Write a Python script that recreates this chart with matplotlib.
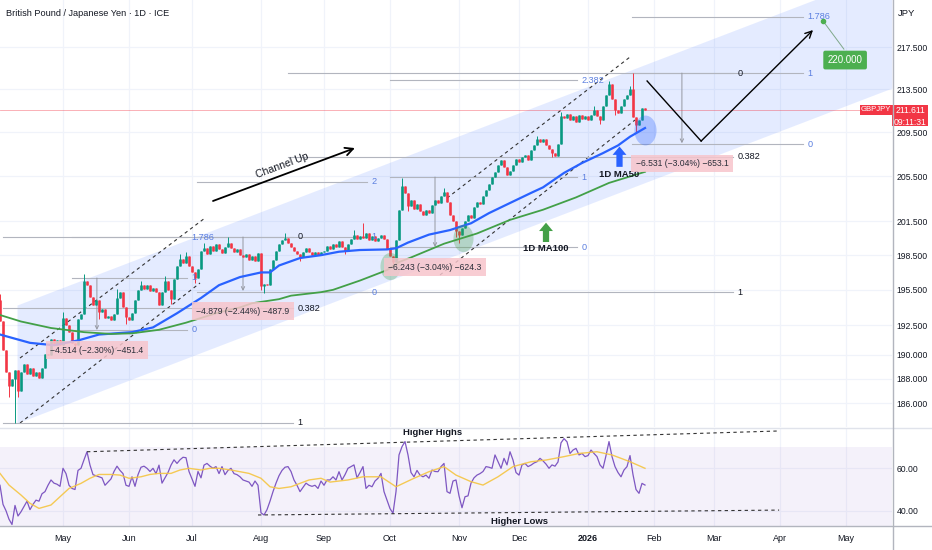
import numpy as np
import pandas as pd
import matplotlib
matplotlib.use("Agg")
import matplotlib.pyplot as plt
from matplotlib.lines import Line2D
from matplotlib.patches import Rectangle
from matplotlib.markers import MarkerStyle
from matplotlib.transforms import Affine2D, IdentityTransform
from matplotlib.ticker import FixedLocator, NullLocator, FuncFormatter

plt.rcParams['font.family'] = ['Liberation Sans', 'DejaVu Sans']

# bar numbers count trading days from 1 Apr 2025 (bar 0)
trading_days = pd.bdate_range("2025-04-01", "2026-05-29")
first_bar = 1
first_open = 194.6

closes = [
    # Apr
    192.8, 190.4, 188.6, 187.4, 188.0, 188.7, 187.0, 188.6, 189.2, 188.4,
    188.9, 188.2, 188.6, 188.1, 188.9, 190.1, 190.0, 191.3, 190.8, 191.2, 190.8,
    # May
    193.1, 192.5, 191.9, 191.0, 190.8, 193.0, 193.4, 196.3, 195.9, 194.9, 194.2,
    194.6, 193.6, 193.9, 193.1, 193.3, 192.9, 193.4, 194.8, 195.3, 194.0, 193.2,
    # Jun
    192.9, 193.5, 194.6, 195.5, 195.9, 195.6, 195.9, 195.4, 195.7, 195.3, 194.2,
    195.3, 196.3, 195.5, 194.7, 196.4, 197.6, 198.2, 197.8, 198.4, 197.6,
    # Jul
    197.0, 196.5, 197.3, 198.9, 199.1, 198.6, 199.3, 198.9, 199.5, 199.0, 198.7, 199.2,
    199.6, 199.1, 198.8, 199.0, 198.5, 198.3, 198.6, 198.1, 198.4, 198.0, 198.7,
    # Aug
    195.8, 196.0, 195.9, 197.3, 198.1, 198.9, 199.5, 199.8, 200.0, 199.6, 199.2,
    198.9, 198.6, 198.3, 198.8, 199.1, 198.8, 198.5, 198.8, 198.5, 198.8,
    # Sep
    198.9, 199.3, 199.0, 199.5, 199.2, 199.7, 199.2, 198.9, 199.5, 199.9, 200.3,
    199.9, 200.2, 200.0, 200.4, 199.8, 200.2, 199.7, 200.0, 200.3, 199.9, 199.0,
    # Oct
    198.4, 197.9, 199.8, 202.5, 204.6, 204.0, 202.8, 203.4, 202.6, 203.0, 202.4, 202.0,
    202.5, 202.2, 202.9, 203.4, 203.1, 203.7, 204.1, 203.2, 202.0, 201.5, 200.6,
    # Nov
    200.3, 200.9, 201.5, 202.0, 201.8, 202.7, 203.2, 203.0, 203.7, 204.3,
    204.8, 205.4, 205.9, 206.5, 207.0, 206.3, 205.6, 206.0, 206.5, 207.1,
    # Dec
    206.8, 207.2, 207.4, 207.0, 207.9, 208.3, 208.9, 208.6, 208.9, 208.3, 208.0, 207.6,
    207.3, 208.4, 211.0, 210.8, 211.2, 210.6, 211.0, 210.5, 211.1, 210.7, 211.0,
    # Jan
    210.6, 211.1, 211.6, 211.0, 210.6, 211.9, 213.0, 214.0, 212.6, 211.6,
    211.3, 211.9, 212.6, 213.0, 213.5, 210.9, 210.2, 210.6, 211.8, 211.611,
]
wick_highs = {1: 195.1, 22: 193.6, 29: 196.9, 40: 195.6, 48: 196.3, 56: 196.7,
              61: 198.6, 63: 198.8, 69: 199.6, 77: 200.1, 96: 200.4, 119: 200.7,
              122: 201.3, 135: 205.3, 149: 204.4, 180: 209.2, 188: 211.4,
              199: 211.9, 204: 214.3, 211: 213.8, 212: 215.0}
wick_lows = {4: 186.5, 6: 184.4, 7: 186.5, 26: 190.4, 34: 193.0, 43: 192.6,
             58: 194.3, 66: 196.1, 88: 195.5, 89: 195.2, 101: 198.0, 116: 198.6,
             132: 197.6, 137: 202.4, 153: 200.1, 154: 199.6, 185: 207.2,
             201: 210.3, 206: 211.1, 213: 209.5}

ma50_bars = [1, 11, 19, 27, 34, 45, 52, 60, 68, 74, 81, 88, 91, 94, 101, 108, 114, 121,
             130, 133, 137, 141, 144, 151, 158, 164, 171, 178, 182, 189, 195, 202,
             207, 211, 216]
ma50 = [191.7, 191.0, 190.8, 191.2, 191.7, 191.9, 192.3, 193.5, 194.8, 195.9, 196.6,
        197.0, 197.0, 197.6, 198.25, 198.5, 198.8, 198.95, 199.0, 199.1, 199.6, 200.0,
        200.3, 200.7, 201.3, 202.2, 203.1, 204.0, 204.5, 205.8, 206.7, 207.6, 208.3,
        209.1, 209.9]
ma100_bars = [1, 8, 18, 29, 38, 45, 54, 63, 68, 73, 81, 85, 94, 98, 108, 112, 121, 130,
              134, 138, 149, 160, 171, 182, 193, 204, 216]
ma100 = [193.35, 192.8, 192.25, 191.9, 191.75, 191.8, 192.1, 192.7, 193.1, 193.5,
         194.0, 194.35, 194.7, 195.0, 195.3, 195.5, 196.3, 197.2, 197.9, 198.3, 199.5,
         200.4, 201.6, 202.5, 203.6, 204.9, 205.9]

rsi = [
    52, 43, 40, 36, 33.5, 42.5, 37.5, 39.5, 42, 44.5,
    40.5, 43, 45, 44.5, 48, 49, 52, 54.5, 53, 52.5,
    51.5, 60, 57.5, 52, 50.5, 50, 59, 60, 64, 67.8,
    61.5, 57, 56.5, 56, 55.5, 52, 53.5, 55, 58.5, 61,
    59, 57.5, 52, 51.5, 56, 51.5, 57, 60.5, 61, 60,
    58.5, 60, 57.5, 61.5, 53, 55.5, 58, 61.5, 64, 62.3,
    64, 65.2, 65, 58.5, 55, 51.5, 58.5, 55.5, 61.5, 62.3,
    61, 60, 60.8, 57.5, 60.8, 57, 59, 60, 57.5, 57,
    56, 54.5, 54, 53.5, 51.5, 54, 52, 39, 38, 40.5,
    44.5, 49, 53, 56.5, 59, 60.5, 60.8, 58.5, 54.5, 52,
    49, 51, 53, 52, 51.5, 52, 50.5, 54, 52, 54.5,
    54.5, 56, 54.5, 58.4, 54.5, 57, 60, 60.8, 61.6, 55.5,
    58, 60.8, 50.5, 52, 51.3, 54, 55.3, 57.6, 49, 45,
    41, 38.8, 49, 66.3, 70.2, 72.6, 66.3, 58, 56, 59,
    56.8, 56, 56.8, 55.3, 59.2, 58.5, 58.4, 60.8, 62.3, 49,
    48.2, 54, 54.5, 47, 41.4, 46.6, 47, 53, 55.5, 56.8,
    57.5, 58.5, 60.8, 60.5, 60, 66.3, 63.1, 60, 64.7, 61.6,
    67.8, 63.9, 58, 56.8, 61.6, 62.3, 60.8, 61.5, 62.5, 63.1,
    64.7, 63.5, 62, 60, 61.6, 61, 63, 72, 74, 72.5,
    67, 68.6, 69.4, 66.3, 67, 65.5, 66, 68.6, 67, 65.5,
    61.6, 60, 66, 72.6, 65.5, 60.8, 58, 56, 59.2, 60.8,
    66, 57, 50, 48.2, 52.9, 52.1,
]
rsi_ma_bars = [1, 4, 8, 11, 14, 18, 21, 24, 28, 31, 34, 38, 41, 44, 48, 51, 54, 58,
               61, 64, 68, 71, 74, 78, 81, 84, 88, 91, 94, 98, 101, 104, 108, 111,
               117, 122, 128, 133, 139, 144, 149, 153, 158, 162, 167, 172, 178, 183,
               189, 194, 200, 205, 211, 216]
rsi_ma = [57.6, 52.1, 47.4, 43.5, 41.1, 42.7, 46.6, 50.5, 52.9, 55.3, 57.1, 57.1,
          56.8, 55.3, 56, 57.1, 57.6, 57.6, 59.2, 60, 59.2, 60, 60, 59.2, 58.4, 57.6,
          55.3, 51.3, 50.5, 51.3, 52.9, 54.5, 55.3, 53.5, 54.5, 56, 56, 51.3, 55.3,
          58.4, 60.8, 56.8, 53.7, 52.1, 56, 60.8, 63.1, 63.9, 65.5, 67, 67.8, 66.3,
          63.1, 60]

price_ticks = [217.5, 213.5, 209.5, 205.5, 201.5, 198.5, 195.5, 192.5, 190.0, 188.0, 186.0]
rsi_ticks = [60, 40]
last_price = 211.611
countdown = "09:11:31"
target = 220.0

# drawings: bars and prices of their anchors
channel_bars = [6.67, 298.3]
channel_low = [184.39, 213.62]
channel_high = [194.2, 224.98]
inner_lines = [(7.67, 189.73, 69.3, 201.76), (7.67, 184.39, 67.67, 196.09),
               (150.0, 203.54, 211.0, 216.55), (147.67, 196.78, 212.67, 210.64)]
fib_ext = [(25, 63.3, 192.1, 196.52, [0, 1, 1.786]),
           (66.7, 123.3, 195.31, 200.09, [0, 1, 2]),
           (131, 193.3, 199.21, 205.43, [0, 1, 2.382]),
           (211.7, 268.7, 208.4, 215.03, [0, 1, 1.786])]
fib_ret = [(2, 98.7, 200.09, 184.4, [0, 0.382, 1]),
           (97, 245.3, 215.03, 195.31, [0, 0.382, 1])]
ranges = [(33.3, 196.52, 192.08, "\u22124.514 (\u22122.30%) \u2212451.4"),
          (82, 200.09, 195.4, "\u22124.879 (\u22122.44%) \u2212487.9"),
          (146, 205.43, 199.21, "\u22126.243 (\u22123.04%) \u2212624.3"),
          (228.3, 215.03, 208.5, "\u22126.531 (\u22123.04%) \u2212653.1")]
projection_bars = [216.7, 234.7, 272.0]
projection = [214.28, 208.70, 219.13]
rsi_highs_line = ([30, 260.7], [67.8, 77.6])
rsi_lows_line = ([87, 260.7], [38.0, 40.3])

W, H = 932, 550
fig = plt.figure(figsize=(W / 100, H / 100), dpi=100)
ax = fig.add_axes([0, 1 - 427 / H, 892 / W, 427 / H])
rx = fig.add_axes([0, 1 - 526 / H, 892 / W, 98 / H], sharex=ax)

for a in (ax, rx):
    for s in a.spines.values():
        s.set_visible(False)
    a.yaxis.tick_right()
    a.tick_params(length=0, labelsize=6.2, colors='#131722', pad=3.5)
    a.grid(True, color='#f0f3fa', lw=0.9)
    a.set_axisbelow(True)

ax.set_yscale('log')
ax.set_ylim(184.07, 222.04)
ax.set_xlim(1.0, 298.33)
ax.yaxis.set_major_locator(FixedLocator(price_ticks))
ax.yaxis.set_minor_locator(NullLocator())
ax.yaxis.set_major_formatter(FuncFormatter(lambda v, p: f'{v:.3f}'))
ax.tick_params(axis='x', labelbottom=False)

month_pos = [k for k in range(1, len(trading_days))
             if trading_days[k].month != trading_days[k - 1].month]
month_lab = [str(trading_days[k].year) if trading_days[k].month == 1
             else trading_days[k].strftime('%b') for k in month_pos]
rx.set_xticks(month_pos)
rx.set_xticklabels(month_lab)
rx.tick_params(axis='x', labelsize=6.5, pad=6)
for t in rx.get_xticklabels():
    if t.get_text().isdigit():
        t.set_fontweight('bold')
rx.set_ylim(32.8, 79.0)
rx.set_yticks(rsi_ticks)
rx.yaxis.set_major_formatter(FuncFormatter(lambda v, p: f'{v:.2f}'))

# channel
ax.fill_between(channel_bars, channel_low, channel_high, color='#2962ff', alpha=0.12,
                lw=0, zorder=1)
for b0, p0, b1, p1 in inner_lines:
    ax.plot([b0, b1], [p0, p1], color='#333333', lw=0.8, ls=(0, (3, 3)), zorder=2)

# fib tools
for tools, tcol in ((fib_ret, '#131722'), (fib_ext, '#5b7fe0')):
    for b0, b1, p0, p1, levels in tools:
        for lv in levels:
            p = p0 * (p1 / p0) ** lv
            ax.plot([b0, b1], [p, p], color='#b2b5be', lw=0.8, zorder=2)
            ax.text(b1 + 1.5, p, f'{lv:g}', color=tcol, fontsize=6.6, va='center',
                    ha='left', zorder=8)

# price ranges
for b, top, bot, label in ranges:
    ax.annotate('', xy=(b, bot), xytext=(b, top),
                arrowprops=dict(arrowstyle='->', color='#9598a1', lw=0.7,
                                shrinkA=0, shrinkB=0, mutation_scale=6), zorder=2)
    ax.annotate(label, xy=(b, bot), xytext=(0, -14.5), textcoords='offset points',
                ha='center', va='center', fontsize=6.2, color='#2a2e39', zorder=7,
                bbox=dict(boxstyle='square,pad=0.5', fc='#f7c5cc', ec='none', alpha=0.85))

# candles
bars = np.arange(len(closes)) + first_bar
c = np.array(closes)
o = np.r_[first_open, c[:-1]]
hi = np.maximum(o, c)
lo = np.minimum(o, c)
for b, v in wick_highs.items():
    hi[b - first_bar] = v
for b, v in wick_lows.items():
    lo[b - first_bar] = v
col = np.where(c >= o, '#089981', '#f23645')
ax.vlines(bars, lo, hi, colors=col, lw=0.7, zorder=3)
b_lo = np.minimum(o, c)
b_hi = np.maximum(o, c)
thin = b_hi - b_lo < 0.06
b_lo[thin] -= 0.03
b_hi[thin] += 0.03
ax.vlines(bars, b_lo, b_hi, colors=col, lw=1.9, zorder=3)

# moving averages
ax.plot(ma50_bars, ma50, color='#2962ff', lw=1.6, zorder=4)
ax.plot(ma100_bars, ma100, color='#43a047', lw=1.3, zorder=4)

# circles
ell = MarkerStyle('o', transform=Affine2D().scale(0.85, 1.15))
ax.scatter([216], [209.71], s=350, marker=ell, color='#2962ff', alpha=0.3, lw=0, zorder=5)
ax.scatter([131, 155.3], [197.56, 200.0], s=290, marker=ell, color='#43a047', alpha=0.3,
           lw=0, zorder=5)

# MA labels
ax.annotate('', xy=(207.5, 208.2), xytext=(207.5, 206.35),
            arrowprops=dict(facecolor='#2962ff', edgecolor='none', width=4.5,
                            headwidth=10, headlength=6, shrink=0), zorder=6)
ax.text(207.5, 206.1, '1D MA50', fontsize=6.8, fontweight='bold', ha='center',
        va='top', color='#131722', zorder=6)
ax.annotate('', xy=(183, 201.35), xytext=(183, 199.65),
            arrowprops=dict(facecolor='#43a047', edgecolor='none', width=4.5,
                            headwidth=10, headlength=6, shrink=0), zorder=6)
ax.text(183, 199.12, '1D MA100', fontsize=6.8, fontweight='bold', ha='center',
        va='center', color='#131722', zorder=6)

# channel up label
ax.annotate('', xy=(119.3, 208.06), xytext=(72, 203.28),
            arrowprops=dict(arrowstyle='->', lw=1.3, color='black', mutation_scale=14,
                            shrinkA=0, shrinkB=0), zorder=6)
ax.text(95, 206.43, 'Channel Up', rotation=20.5, rotation_mode='anchor', ha='center',
        va='center', fontsize=7.6, color='#131722', zorder=6)

# projection
ax.plot(projection_bars[:2], projection[:2], color='black', lw=1, zorder=6)
ax.annotate('', xy=(projection_bars[2], projection[2]),
            xytext=(projection_bars[1], projection[1]),
            arrowprops=dict(arrowstyle='->', lw=1, color='black', mutation_scale=12,
                            shrinkA=0, shrinkB=0), zorder=6)

# target
ax.plot([275.3, 282.3], [220.02, 217.3], color='#7fa88a', lw=0.7, zorder=6)
ax.plot([275.3], [220.02], 'o', ms=3, color='#4caf50', zorder=7)
ax.text(282.7, 216.26, f'{target:.3f}', fontsize=7, color='white', ha='center',
        va='center', zorder=7,
        bbox=dict(boxstyle='round,pad=0.45,rounding_size=0.2', fc='#4caf50', ec='none'))

# last price line and its scale labels (in pixels around the line)
ax.axhline(last_price, color='#f23645', lw=0.6, alpha=0.45, zorder=2)
ypx = ax.transData.transform((1, last_price))[1]
px = IdentityTransform()
fig.add_artist(Rectangle((860, ypx - 5.7), 32, 10.7, fc='#f23645', ec='none', transform=px))
fig.add_artist(Rectangle((892, ypx - 16.7), 36, 21.7, fc='#f23645', ec='none', transform=px))
fig.text(876, ypx - 0.4, 'GBPJPY', transform=px, fontsize=5.6, color='white',
         ha='center', va='center')
fig.text(910, ypx - 1.0, f'{last_price:.3f}', transform=px, fontsize=6.2, color='white',
         ha='center', va='center')
fig.text(910, ypx - 12.5, countdown, transform=px, fontsize=6.2, color='white',
         ha='center', va='center')

# RSI pane
rx.fill_between([1, 298.33], 30, 70, color='#7e57c2', alpha=0.08, lw=0)
rx.plot(bars, rsi, color='#7e57c2', lw=0.9, zorder=3)
rx.plot(rsi_ma_bars, rsi_ma, color='#f5c542', lw=1.0, alpha=0.9, zorder=3)
rx.plot(*rsi_highs_line, color='#333333', lw=0.8, ls=(0, (3, 3)), zorder=4)
rx.plot(*rsi_lows_line, color='#333333', lw=0.8, ls=(0, (3, 3)), zorder=4)
rx.text(145.3, 77.1, 'Higher Highs', fontsize=6.8, fontweight='bold', ha='center',
        va='center', color='#131722')
rx.text(174, 35.1, 'Higher Lows', fontsize=6.8, fontweight='bold', ha='center',
        va='center', color='#131722')

# frame
fig.add_artist(Line2D([0, 1], [1 - 427.5 / H] * 2, color='#e0e3eb', lw=1))
fig.add_artist(Line2D([0, 1], [1 - 526 / H] * 2, color='#b2b5be', lw=1))
fig.add_artist(Line2D([892.5 / W] * 2, [0, 1], color='#b2b5be', lw=1))

fig.text(6 / W, 1 - 14 / H, 'British Pound / Japanese Yen \u00b7 1D \u00b7 ICE', fontsize=6.6,
         va='center', ha='left', color='#131722')
fig.text(907 / W, 1 - 14 / H, 'JPY', fontsize=6.8, va='center', ha='center',
         color='#131722')

fig.savefig('out.png', dpi=100)
